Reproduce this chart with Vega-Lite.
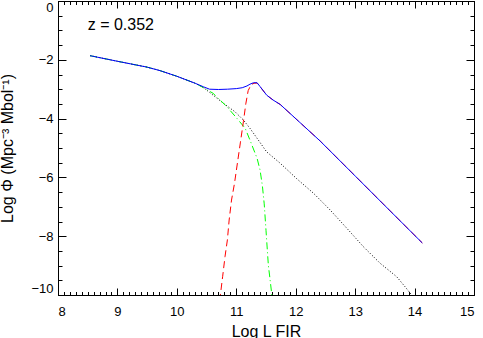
{
  "$schema": "https://vega.github.io/schema/vega-lite/v6.json",
  "width": 416,
  "height": 294,
  "autosize": {"type": "none"},
  "padding": {"left": 58, "top": 1, "right": 9, "bottom": 43},
  "background": "white",
  "config": {
    "view": {"stroke": "black", "strokeWidth": 1},
    "axis": {
      "grid": false,
      "domain": false,
      "tickColor": "black",
      "labelColor": "black",
      "titleColor": "black",
      "labelFont": "Liberation Sans",
      "titleFont": "Liberation Sans",
      "labelFontSize": 13,
      "titleFontSize": 16,
      "titleFontWeight": "normal",
      "tickWidth": 1
    }
  },
  "datasets": {
    "curves": [
      {"series": "total", "x": 8.54, "y": -1.86},
      {"series": "total", "x": 9.0, "y": -2.05},
      {"series": "total", "x": 9.5, "y": -2.25},
      {"series": "total", "x": 9.72, "y": -2.37},
      {"series": "total", "x": 10.0, "y": -2.56},
      {"series": "total", "x": 10.31, "y": -2.8},
      {"series": "total", "x": 10.45, "y": -2.92},
      {"series": "total", "x": 10.55, "y": -3.0},
      {"series": "total", "x": 10.7, "y": -3.01},
      {"series": "total", "x": 10.85, "y": -3.0},
      {"series": "total", "x": 11.0, "y": -2.98},
      {"series": "total", "x": 11.1, "y": -2.95},
      {"series": "total", "x": 11.18, "y": -2.89},
      {"series": "total", "x": 11.23, "y": -2.83},
      {"series": "total", "x": 11.29, "y": -2.78},
      {"series": "total", "x": 11.35, "y": -2.78},
      {"series": "total", "x": 11.4, "y": -2.91},
      {"series": "total", "x": 11.51, "y": -3.2},
      {"series": "total", "x": 11.62, "y": -3.37},
      {"series": "total", "x": 11.74, "y": -3.52},
      {"series": "total", "x": 12.41, "y": -4.76},
      {"series": "total", "x": 13.0, "y": -5.95},
      {"series": "total", "x": 13.5, "y": -6.96},
      {"series": "total", "x": 14.13, "y": -8.23},

      {"series": "normal", "x": 8.54, "y": -1.86},
      {"series": "normal", "x": 9.0, "y": -2.05},
      {"series": "normal", "x": 9.5, "y": -2.25},
      {"series": "normal", "x": 9.72, "y": -2.37},
      {"series": "normal", "x": 10.0, "y": -2.56},
      {"series": "normal", "x": 10.31, "y": -2.8},
      {"series": "normal", "x": 10.45, "y": -2.95},
      {"series": "normal", "x": 10.61, "y": -3.14},
      {"series": "normal", "x": 10.84, "y": -3.59},
      {"series": "normal", "x": 11.01, "y": -3.99},
      {"series": "normal", "x": 11.15, "y": -4.33},
      {"series": "normal", "x": 11.23, "y": -4.73},
      {"series": "normal", "x": 11.35, "y": -5.35},
      {"series": "normal", "x": 11.4, "y": -5.75},
      {"series": "normal", "x": 11.44, "y": -6.3},
      {"series": "normal", "x": 11.47, "y": -6.9},
      {"series": "normal", "x": 11.5, "y": -7.8},
      {"series": "normal", "x": 11.54, "y": -9.0},
      {"series": "normal", "x": 11.57, "y": -9.5},
      {"series": "normal", "x": 11.61, "y": -10.2},

      {"series": "other", "x": 8.54, "y": -1.86},
      {"series": "other", "x": 9.0, "y": -2.05},
      {"series": "other", "x": 9.5, "y": -2.25},
      {"series": "other", "x": 9.72, "y": -2.37},
      {"series": "other", "x": 10.0, "y": -2.56},
      {"series": "other", "x": 10.31, "y": -2.8},
      {"series": "other", "x": 10.45, "y": -2.95},
      {"series": "other", "x": 10.64, "y": -3.25},
      {"series": "other", "x": 10.81, "y": -3.52},
      {"series": "other", "x": 10.98, "y": -3.77},
      {"series": "other", "x": 11.12, "y": -4.05},
      {"series": "other", "x": 11.23, "y": -4.33},
      {"series": "other", "x": 11.35, "y": -4.67},
      {"series": "other", "x": 11.51, "y": -5.13},
      {"series": "other", "x": 11.74, "y": -5.52},
      {"series": "other", "x": 12.02, "y": -6.05},
      {"series": "other", "x": 12.3, "y": -6.54},
      {"series": "other", "x": 12.58, "y": -7.11},
      {"series": "other", "x": 12.86, "y": -7.73},
      {"series": "other", "x": 13.14, "y": -8.36},
      {"series": "other", "x": 13.42, "y": -8.92},
      {"series": "other", "x": 13.7, "y": -9.38},
      {"series": "other", "x": 13.84, "y": -9.72},
      {"series": "other", "x": 13.94, "y": -9.97},
      {"series": "other", "x": 14.0, "y": -10.15},

      {"series": "starburst", "x": 10.72, "y": -10.2},
      {"series": "starburst", "x": 10.77, "y": -9.38},
      {"series": "starburst", "x": 10.81, "y": -8.7},
      {"series": "starburst", "x": 10.85, "y": -8.13},
      {"series": "starburst", "x": 10.88, "y": -7.45},
      {"series": "starburst", "x": 10.92, "y": -6.77},
      {"series": "starburst", "x": 10.97, "y": -6.2},
      {"series": "starburst", "x": 11.02, "y": -5.5},
      {"series": "starburst", "x": 11.07, "y": -4.8},
      {"series": "starburst", "x": 11.12, "y": -4.1},
      {"series": "starburst", "x": 11.16, "y": -3.5},
      {"series": "starburst", "x": 11.2, "y": -3.05},
      {"series": "starburst", "x": 11.25, "y": -2.84},
      {"series": "starburst", "x": 11.3, "y": -2.8},
      {"series": "starburst", "x": 11.35, "y": -2.79},
      {"series": "starburst", "x": 11.4, "y": -2.91},
      {"series": "starburst", "x": 11.51, "y": -3.2},
      {"series": "starburst", "x": 11.62, "y": -3.37},
      {"series": "starburst", "x": 11.74, "y": -3.52},
      {"series": "starburst", "x": 12.41, "y": -4.76},
      {"series": "starburst", "x": 13.0, "y": -5.95},
      {"series": "starburst", "x": 13.5, "y": -6.96},
      {"series": "starburst", "x": 14.13, "y": -8.23}
    ],
    "label": [{"x": 8.5, "y": -0.99, "text": "z = 0.352"}]
  },
  "resolve": {"axis": {"x": "independent", "y": "independent"}},
  "layer": [
    {
      "data": {"name": "curves"},
      "transform": [{"filter": "datum.series === 'other'"}],
      "mark": {"type": "line", "color": "black", "strokeWidth": 1, "strokeDash": [1, 2], "clip": true},
      "encoding": {
        "x": {"field": "x", "type": "quantitative", "scale": {"domain": [8, 15], "nice": false, "zero": false},
              "axis": {"orient": "top", "tickCount": 7, "tickSize": 7, "offset": -7, "labels": false, "title": null}},
        "y": {"field": "y", "type": "quantitative", "scale": {"domain": [-10, 0], "nice": false, "zero": false},
              "axis": {"orient": "right", "tickCount": 5, "tickSize": 8, "offset": -8, "labels": false, "title": null}}
      }
    },
    {
      "data": {"name": "curves"},
      "transform": [{"filter": "datum.series === 'normal'"}],
      "mark": {"type": "line", "color": "#00ff00", "strokeWidth": 1, "strokeDash": [7, 3, 1, 3], "clip": true},
      "encoding": {
        "x": {"field": "x", "type": "quantitative",
              "axis": {"orient": "bottom", "tickCount": 70, "tickSize": 3.5, "offset": -3.5, "labels": false, "title": null}},
        "y": {"field": "y", "type": "quantitative",
              "axis": {"orient": "left", "tickCount": 20, "tickSize": 4, "offset": -4, "labels": false, "title": null}}
      }
    },
    {
      "data": {"name": "curves"},
      "transform": [{"filter": "datum.series === 'starburst'"}],
      "mark": {"type": "line", "color": "#ff0000", "strokeWidth": 1, "strokeDash": [7, 4], "clip": true},
      "encoding": {
        "x": {"field": "x", "type": "quantitative",
              "axis": {"orient": "top", "tickCount": 70, "tickSize": 3.5, "offset": -3.5, "labels": false, "title": null}},
        "y": {"field": "y", "type": "quantitative",
              "axis": {"orient": "right", "tickCount": 20, "tickSize": 4, "offset": -4, "labels": false, "title": null}}
      }
    },
    {
      "data": {"name": "curves"},
      "transform": [{"filter": "datum.series === 'total'"}],
      "mark": {"type": "line", "color": "#0000ff", "strokeWidth": 1, "clip": true},
      "encoding": {
        "x": {"field": "x", "type": "quantitative",
              "axis": {"orient": "bottom", "tickCount": 7, "tickSize": 7, "offset": -7, "labelPadding": 10, "title": "Log L FIR", "titlePadding": 5}},
        "y": {"field": "y", "type": "quantitative",
              "axis": {"orient": "left", "tickCount": 5, "tickSize": 8, "offset": -8, "labelPadding": 5, "labelFlush": true, "title": "Log Φ (Mpc⁻³ Mbol⁻¹)", "titlePadding": 15}}
      }
    },
    {
      "data": {"name": "label"},
      "mark": {"type": "text", "align": "left", "baseline": "alphabetic", "font": "Liberation Sans", "fontSize": 16, "color": "black"},
      "encoding": {
        "x": {"field": "x", "type": "quantitative", "axis": null},
        "y": {"field": "y", "type": "quantitative", "axis": null},
        "text": {"field": "text"}
      }
    }
  ]
}
